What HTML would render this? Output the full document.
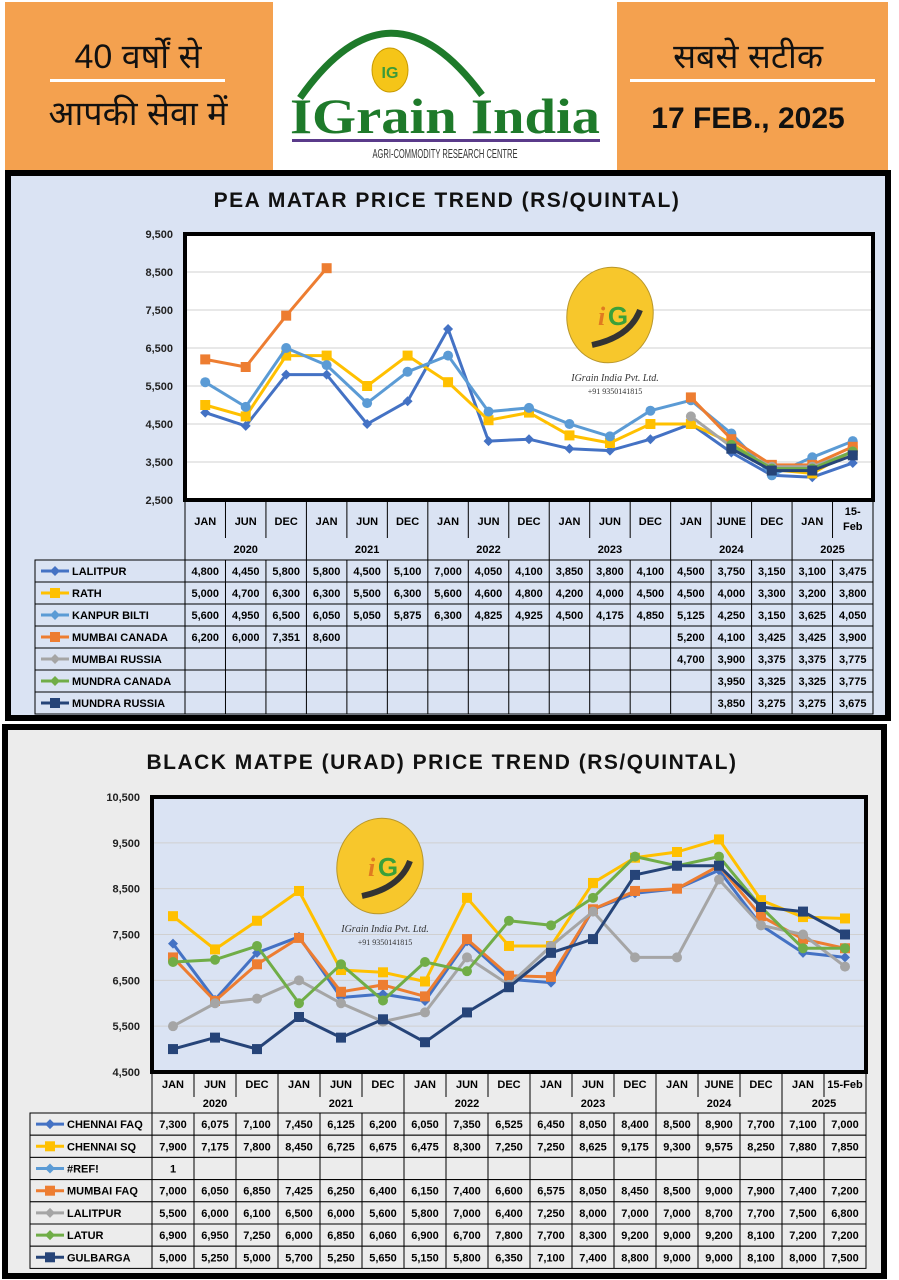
<!DOCTYPE html>
<html><head><meta charset="utf-8">
<style>
html,body{margin:0;padding:0;background:#fff;}
body{width:899px;height:1280px;overflow:hidden;position:relative;font-family:"Liberation Sans",sans-serif;}
svg{position:absolute;left:0;top:0;}
</style></head>
<body>
<svg id="s" width="899" height="1280" viewBox="0 0 899 1280" xmlns="http://www.w3.org/2000/svg">
<!-- header -->
<rect x="5" y="2" width="268" height="168" fill="#f4a14f"/>
<rect x="617" y="2" width="271" height="168" fill="#f4a14f"/>
<rect x="273" y="2" width="344" height="168" fill="#fff"/>
<text x="138" y="68" font-size="34" text-anchor="middle" font-family="'Liberation Sans',sans-serif" fill="#111">40 वर्षों से</text>
<rect x="50" y="79" width="175" height="3" fill="#fff"/>
<text x="138" y="125" font-size="34" text-anchor="middle" font-family="'Liberation Sans',sans-serif" fill="#111">आपकी सेवा में</text>
<text x="748" y="68" font-size="34" text-anchor="middle" font-family="'Liberation Sans',sans-serif" fill="#111">सबसे सटीक</text>
<rect x="630" y="79" width="245" height="3" fill="#fff"/>
<text x="748" y="128" font-size="30" font-weight="bold" text-anchor="middle" fill="#111">17 FEB., 2025</text>
<path d="M300,98 Q390,-30 482,95" stroke="#1e7a2a" stroke-width="7" fill="none"/>
<ellipse cx="390" cy="70" rx="18" ry="22" fill="#f5c518" stroke="#c89a00"/>
<text x="390" y="78" font-size="16" font-weight="bold" text-anchor="middle" fill="#3a9a3a">IG</text>
<text x="445" y="133" font-size="50" font-weight="bold" text-anchor="middle" font-family="'Liberation Serif',serif" fill="#1e7a2a" textLength="310" lengthAdjust="spacingAndGlyphs">IGrain India</text>
<rect x="292" y="139" width="308" height="3" fill="#5a3a8a"/>
<text x="445" y="158" font-size="13" text-anchor="middle" fill="#333" textLength="145" lengthAdjust="spacingAndGlyphs">AGRI-COMMODITY RESEARCH CENTRE</text>
<g id="dyn"></g>
</svg>
<script>
const NS="http://www.w3.org/2000/svg";
const g=document.getElementById('dyn');
function el(t,a,txt){const e=document.createElementNS(NS,t);for(const k in a)e.setAttribute(k,a[k]);if(txt!==undefined)e.textContent=txt;g.appendChild(e);return e;}
const C={blue:'#4472c4',yel:'#ffc000',lb:'#5b9bd5',or:'#ed7d31',gr:'#a5a5a5',gn:'#70ad47',db:'#264478'};
function fmt(v){return v.toLocaleString('en-US');}
function logo(cx,cy){
 el('ellipse',{cx:cx,cy:cy,rx:43,ry:48,fill:'#f7c72c',stroke:'#b8962a','stroke-width':1,transform:`rotate(12 ${cx} ${cy})`});
 el('path',{d:`M${cx-18},${cy+30} Q${cx+20},${cy+22} ${cx+30},${cy-5}`,stroke:'#333','stroke-width':6,fill:'none'});
 el('text',{x:cx-12,y:cy+10,'font-size':26,'font-weight':'bold',fill:'#e07a20','font-family':'Liberation Serif,serif','font-style':'italic'},'i');
 el('text',{x:cx+8,y:cy+10,'font-size':26,'font-weight':'bold',fill:'#3aa03a','text-anchor':'middle'},'G');
 el('text',{x:cx+5,y:cy+66,'font-size':10,fill:'#333','font-style':'italic','font-family':'Liberation Serif,serif','text-anchor':'middle'},'IGrain India Pvt. Ltd.');
 el('text',{x:cx+5,y:cy+79,'font-size':8,fill:'#333','font-family':'Liberation Serif,serif','text-anchor':'middle'},'+91 9350141815');
}
function marker(x,y,sh,c){
 if(sh==='d')el('path',{d:`M${x},${y-5}L${x+5},${y}L${x},${y+5}L${x-5},${y}Z`,fill:c});
 else if(sh==='s')el('rect',{x:x-5,y:y-5,width:10,height:10,fill:c});
 else el('circle',{cx:x,cy:y,r:5,fill:c});
}
function chart(o){
 // panel
 el('rect',{x:o.px,y:o.py,width:o.pw,height:o.ph,fill:o.pbg,stroke:'#000','stroke-width':6});
 el('text',{x:o.tx,y:o.ty,'font-size':21,'font-weight':'bold','text-anchor':'middle','letter-spacing':1.5,fill:'#111'},o.title);
 const X0=o.x0,X1=o.x1,Y0=o.y0,Y1=o.y1,n=17,cw=(X1-X0)/n;
 const yv=v=>Y1-(v-o.vmin)*(Y1-Y0)/(o.vmax-o.vmin);
 el('rect',{x:X0,y:Y0,width:X1-X0,height:Y1-Y0,fill:o.bg});
 for(let v=o.vmin;v<=o.vmax;v+=1000){
  el('line',{x1:X0,x2:X1,y1:yv(v),y2:yv(v),stroke:'#d0d0d0','stroke-width':1});
  el('text',{x:X0-12,y:yv(v)+4,'font-size':11,'font-weight':'bold','text-anchor':'end',fill:'#222'},fmt(v));
 }
 logo(o.lx,o.ly);
 o.series.forEach(s=>{
  if(!s.plot)return;
  let d='',pen=false;
  s.v.forEach((v,i)=>{if(v==null){pen=false;return;}const x=X0+cw*(i+.5),y=yv(v);d+=(pen?'L':'M')+x.toFixed(1)+','+y.toFixed(1);pen=true;});
  el('path',{d:d,stroke:s.c,'stroke-width':3,fill:'none','stroke-linejoin':'round'});
  s.v.forEach((v,i)=>{if(v!=null)marker(X0+cw*(i+.5),yv(v),s.m,s.c);});
 });
 el('rect',{x:X0,y:Y0,width:X1-X0,height:Y1-Y0,fill:'none',stroke:'#000','stroke-width':4});
 // table
 const months=['JAN','JUN','DEC','JAN','JUN','DEC','JAN','JUN','DEC','JAN','JUN','DEC','JAN','JUNE','DEC','JAN',o.last];
 const hy=o.hy,my=o.my,yy=o.yy,ry=o.ry,rh=o.rh;
 el('line',{x1:X0,x2:X0,y1:Y1,y2:ry,stroke:'#000'});
 el('line',{x1:X1,x2:X1,y1:Y1,y2:ry,stroke:'#000'});
 months.forEach((m,i)=>{
  const cx=X0+cw*(i+.5);
  if(m==='15-Feb'&&o.two){el('text',{x:cx,y:hy-6,'font-size':11,'font-weight':'bold','text-anchor':'middle'},'15-');el('text',{x:cx,y:hy+9,'font-size':11,'font-weight':'bold','text-anchor':'middle'},'Feb');}
  else el('text',{x:cx,y:hy+4,'font-size':11,'font-weight':'bold','text-anchor':'middle'},m);
  if(i>0){const grp=[3,6,9,12,15].includes(i);el('line',{x1:X0+cw*i,x2:X0+cw*i,y1:Y1,y2:grp?ry:my,stroke:'#000'});}
 });
 [[0,3,'2020'],[3,6,'2021'],[6,9,'2022'],[9,12,'2023'],[12,15,'2024'],[15,17,'2025']].forEach(a=>{
  el('text',{x:X0+cw*(a[0]+a[1])/2,y:yy,'font-size':11,'font-weight':'bold','text-anchor':'middle'},a[2]);
 });
 const lx=o.tl;
 o.series.forEach((s,r)=>{
  const y=ry+rh*r;
  el('rect',{x:lx,y:y,width:X1-lx,height:rh,fill:o.cell,stroke:'#000','stroke-width':1});
  for(let i=0;i<=n;i++)el('line',{x1:X0+cw*i,x2:X0+cw*i,y1:y,y2:y+rh,stroke:'#000'});
  el('line',{x1:lx+6,x2:lx+34,y1:y+rh/2,y2:y+rh/2,stroke:s.c,'stroke-width':3});
  marker(lx+20,y+rh/2,s.m==='c'?'d':s.m,s.c);
  el('text',{x:lx+37,y:y+rh/2+4,'font-size':11,'font-weight':'bold'},s.n);
  s.v.forEach((v,i)=>{if(v!=null)el('text',{x:X0+cw*(i+.5),y:y+rh/2+4,'font-size':11,'font-weight':'bold','text-anchor':'middle'},fmt(v));});
 });
}
const N=null;
chart({px:8,py:173,pw:880,ph:545,pbg:'#dae3f3',tx:447,ty:207,title:'PEA MATAR PRICE TREND (RS/QUINTAL)',
 x0:185,x1:873,y0:234,y1:500,vmin:2500,vmax:9500,bg:'#fff',lx:610,ly:315,last:'15-Feb',two:true,
 hy:521,my:538,yy:553,ry:560,rh:22,tl:35,cell:'#dae3f3',
 series:[
 {n:'LALITPUR',c:C.blue,m:'d',plot:1,v:[4800,4450,5800,5800,4500,5100,7000,4050,4100,3850,3800,4100,4500,3750,3150,3100,3475]},
 {n:'RATH',c:C.yel,m:'s',plot:1,v:[5000,4700,6300,6300,5500,6300,5600,4600,4800,4200,4000,4500,4500,4000,3300,3200,3800]},
 {n:'KANPUR BILTI',c:C.lb,m:'c',plot:1,v:[5600,4950,6500,6050,5050,5875,6300,4825,4925,4500,4175,4850,5125,4250,3150,3625,4050]},
 {n:'MUMBAI CANADA',c:C.or,m:'s',plot:1,v:[6200,6000,7351,8600,N,N,N,N,N,N,N,N,5200,4100,3425,3425,3900]},
 {n:'MUMBAI RUSSIA',c:C.gr,m:'c',plot:1,v:[N,N,N,N,N,N,N,N,N,N,N,N,4700,3900,3375,3375,3775]},
 {n:'MUNDRA CANADA',c:C.gn,m:'c',plot:1,v:[N,N,N,N,N,N,N,N,N,N,N,N,N,3950,3325,3325,3775]},
 {n:'MUNDRA RUSSIA',c:C.db,m:'s',plot:1,v:[N,N,N,N,N,N,N,N,N,N,N,N,N,3850,3275,3275,3675]}]});
chart({px:5,py:727,pw:879,ph:549,pbg:'#ececec',tx:442,ty:769,title:'BLACK MATPE (URAD)  PRICE TREND (RS/QUINTAL)',
 x0:152,x1:866,y0:797,y1:1072,vmin:4500,vmax:10500,bg:'#dae3f3',lx:380,ly:866,last:'15-Feb',two:false,
 hy:1084,my:1097,yy:1107,ry:1113,rh:22.2,tl:30,cell:'#ececec',
 series:[
 {n:'CHENNAI FAQ',c:C.blue,m:'d',plot:1,v:[7300,6075,7100,7450,6125,6200,6050,7350,6525,6450,8050,8400,8500,8900,7700,7100,7000]},
 {n:'CHENNAI SQ',c:C.yel,m:'s',plot:1,v:[7900,7175,7800,8450,6725,6675,6475,8300,7250,7250,8625,9175,9300,9575,8250,7880,7850]},
 {n:'#REF!',c:C.lb,m:'d',plot:0,v:[1,N,N,N,N,N,N,N,N,N,N,N,N,N,N,N,N]},
 {n:'MUMBAI FAQ',c:C.or,m:'s',plot:1,v:[7000,6050,6850,7425,6250,6400,6150,7400,6600,6575,8050,8450,8500,9000,7900,7400,7200]},
 {n:'LALITPUR',c:C.gr,m:'c',plot:1,v:[5500,6000,6100,6500,6000,5600,5800,7000,6400,7250,8000,7000,7000,8700,7700,7500,6800]},
 {n:'LATUR',c:C.gn,m:'c',plot:1,v:[6900,6950,7250,6000,6850,6060,6900,6700,7800,7700,8300,9200,9000,9200,8100,7200,7200]},
 {n:'GULBARGA',c:C.db,m:'s',plot:1,v:[5000,5250,5000,5700,5250,5650,5150,5800,6350,7100,7400,8800,9000,9000,8100,8000,7500]}]});
</script>
</body></html>
